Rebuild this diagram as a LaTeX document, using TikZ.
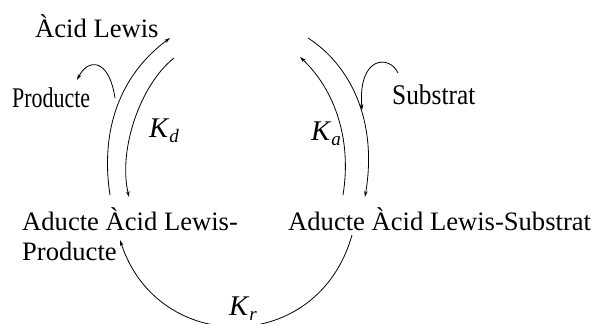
\documentclass[tikz,border=0pt]{standalone}
\usepackage{fontspec}
\setmainfont{Liberation Serif}
\usetikzlibrary{arrows.meta}
\newcommand{\Kwith}[1]{\textit{K}\raisebox{-5.5pt}{\fontsize{19}{19}\selectfont\textit{#1}}}
\begin{document}
\begin{tikzpicture}[x=1pt,y=1pt,
  lbl/.style={inner sep=0pt,anchor=base west,font=\fontsize{26.6}{30}\selectfont},
  klbl/.style={inner sep=0pt,anchor=base west,font=\fontsize{28.5}{30}\selectfont},
  conn/.style={line width=0.8pt,-{Stealth[length=6pt,width=3.6pt]}}]
\useasboundingbox (0,0) rectangle (595,-324);
% text nodes
\node[lbl] (acid) at (35,-37) {Àcid Lewis};
\node[lbl] (prod) at (12,-107) {\scalebox{0.77}[1]{\fontsize{28.5}{30}\selectfont Producte}};
\node[lbl] (subs) at (392,-104) {\scalebox{0.89}[1]{\fontsize{28.5}{30}\selectfont Substrat}};
\node[lbl,align=left] (adp) at (22,-260) {Aducte Àcid Lewis-\\Producte};
\node[lbl] (ads) at (288,-230) {Aducte Àcid Lewis-Substrat};
\node[klbl] (kd) at (149,-137) {\Kwith{d}};
\node[klbl] (ka) at (311,-140) {\Kwith{a}};
\node[klbl] (kr) at (229,-315) {\Kwith{r}};
% connector end points
\coordinate (l1s) at (110,-195);
\coordinate (l1e) at (170,-38);
\coordinate (l2s) at (174,-58);
\coordinate (l2e) at (129,-197);
\coordinate (r1s) at (308,-38);
\coordinate (r1e) at (365,-197);
\coordinate (r2s) at (343,-195);
\coordinate (r2e) at (300,-57);
\coordinate (pbs) at (115,-98);
\coordinate (pbe) at (77,-80);
\coordinate (sbs) at (398,-73);
\coordinate (sbe) at (362,-110);
\coordinate (bs) at (352,-235);
\coordinate (be) at (120,-240);
% left pair
\draw[conn] (l1s) .. controls (100,-130) and (120,-75) .. (l1e);
\draw[conn] (l2s) .. controls (140,-85) and (118,-150) .. (l2e);
\draw[conn] (pbs) .. controls (109,-58) and (88,-58) .. (pbe);
% right pair
\draw[conn] (r1s) .. controls (350,-65) and (378,-120) .. (r1e);
\draw[conn] (r2s) .. controls (352,-140) and (335,-90) .. (r2e);
\draw[conn] (sbs) .. controls (390,-55) and (358,-55) .. (sbe);
% bottom
\begin{scope}
\clip (0,0) rectangle (595,-324);
\draw[conn] (bs) .. controls (318,-356) and (158,-356) .. (be);
\end{scope}
\end{tikzpicture}
\end{document}
